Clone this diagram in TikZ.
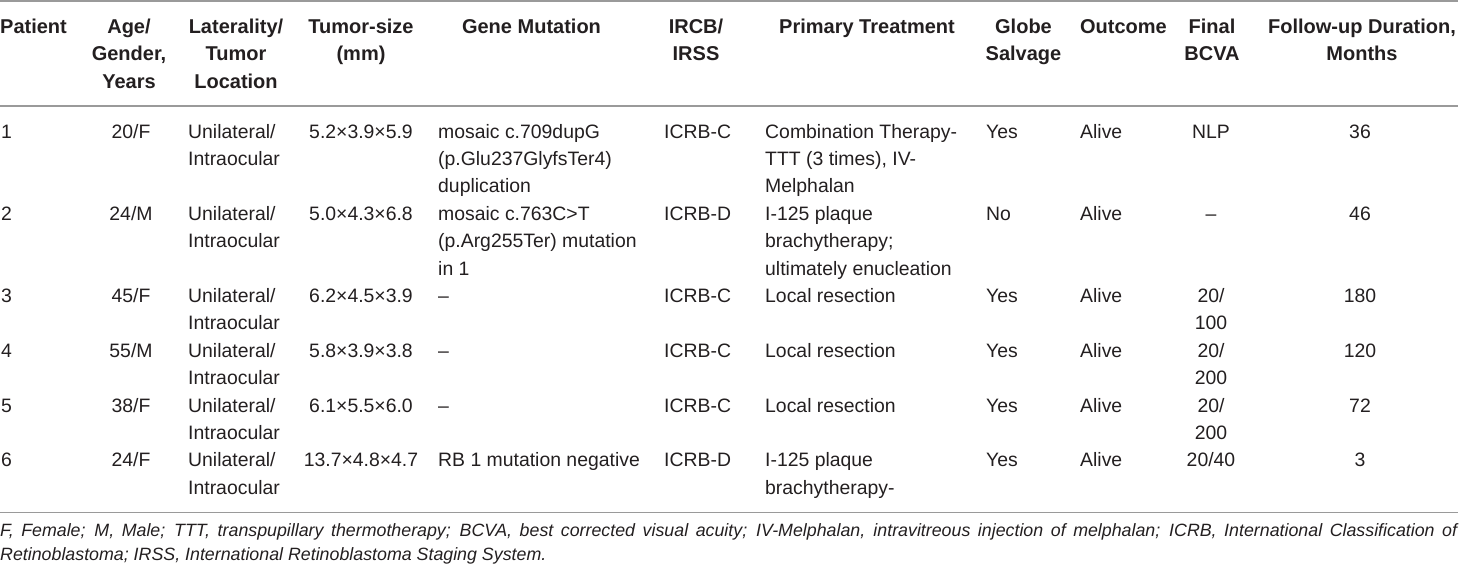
\documentclass[tikz,border=0pt]{standalone}
\usepackage{fontspec}
\setmainfont{Liberation Sans}
\definecolor{txt}{HTML}{231F20}
\definecolor{rulegray}{HTML}{9A9A9A}
\tikzset{
  hd/.style={inner sep=0pt, font=\fontsize{20}{27.4}\selectfont\bfseries, text=txt, anchor=base},
  bdl/.style={inner sep=0pt, font=\fontsize{19.4}{27.4}\selectfont, text=txt, anchor=base west},
  bdc/.style={inner sep=0pt, font=\fontsize{19.4}{27.4}\selectfont, text=txt, anchor=base},
  foot/.style={inner sep=0pt, font=\fontsize{17.8}{24}\selectfont\itshape, text=txt, anchor=base west},
  tabrule/.style={draw=rulegray, line width=1.4pt}
}
% multi-line cell: style, name, x, first baseline y, {line1,line2,...}
\newcommand\mcell[5]{%
  \foreach \mytxt [count=\i from 0] in {#5}{%
    \node[#1] (#2-\i) at (#3,{#4+27.4*\i}) {\mytxt};}}
\begin{document}
\begin{tikzpicture}[x=1pt,y=-1pt]
\useasboundingbox (0,0) rectangle (1460,568);
% rules
\coordinate (t0) at (0,1);     \coordinate (t1) at (1458,1);
\coordinate (m0) at (0,106);   \coordinate (m1) at (1458,106);
\coordinate (b0) at (0,512.5); \coordinate (b1) at (1458,512.5);
\draw[tabrule] (t0) -- (t1);
\draw[tabrule] (m0) -- (m1);
\draw[tabrule] (b0) -- (b1);
% header
\node[hd,anchor=base west] (hP) at (0,33.5) {Patient};
\mcell{hd}{hA}{129}{33.5}{Age/,{Gender,},Years}
\mcell{hd}{hL}{236}{33.5}{Laterality/,Tumor,Location}
\mcell{hd}{hT}{361}{33.5}{Tumor-size,(mm)}
\mcell{hd}{hG}{531.5}{33.5}{Gene Mutation}
\mcell{hd}{hI}{696}{33.5}{IRCB/,IRSS}
\mcell{hd}{hR}{867}{33.5}{Primary Treatment}
\mcell{hd}{hS}{1023.5}{33.5}{Globe,Salvage}
\mcell{hd}{hO}{1123.5}{33.5}{Outcome}
\mcell{hd}{hB}{1212}{33.5}{Final,BCVA}
\mcell{hd}{hF}{1362}{33.5}{{Follow-up Duration,},Months}
% row 1
\def\ry{138}
\mcell{bdl}{p1}{1}{\ry}{1}
\mcell{bdc}{a1}{131}{\ry}{20/F}
\mcell{bdl}{l1}{188}{\ry}{Unilateral/,Intraocular}
\mcell{bdc}{t1s}{361}{\ry}{5.2×3.9×5.9}
\mcell{bdl}{g1}{438}{\ry}{mosaic c.709dupG,(p.Glu237GlyfsTer4),duplication}
\mcell{bdl}{i1}{664}{\ry}{ICRB-C}
\mcell{bdl}{r1}{765}{\ry}{Combination Therapy-,{TTT (3 times), IV-},Melphalan}
\mcell{bdl}{s1}{986}{\ry}{Yes}
\mcell{bdl}{o1}{1080}{\ry}{Alive}
\mcell{bdc}{v1}{1211}{\ry}{NLP}
\mcell{bdc}{f1}{1360}{\ry}{36}
% row 2
\def\ry{220.2}
\mcell{bdl}{p2}{1}{\ry}{2}
\mcell{bdc}{a2}{131}{\ry}{24/M}
\mcell{bdl}{l2}{188}{\ry}{Unilateral/,Intraocular}
\mcell{bdc}{t2s}{361}{\ry}{5.0×4.3×6.8}
\mcell{bdl}{g2}{438}{\ry}{mosaic c.763C>T,(p.Arg255Ter) mutation,in 1}
\mcell{bdl}{i2}{664}{\ry}{ICRB-D}
\mcell{bdl}{r2}{765}{\ry}{I-125 plaque,brachytherapy;,ultimately enucleation}
\mcell{bdl}{s2}{986}{\ry}{No}
\mcell{bdl}{o2}{1080}{\ry}{Alive}
\mcell{bdc}{v2}{1211}{\ry}{–}
\mcell{bdc}{f2}{1360}{\ry}{46}
% row 3
\def\ry{302.4}
\mcell{bdl}{p3}{1}{\ry}{3}
\mcell{bdc}{a3}{131}{\ry}{45/F}
\mcell{bdl}{l3}{188}{\ry}{Unilateral/,Intraocular}
\mcell{bdc}{t3s}{361}{\ry}{6.2×4.5×3.9}
\mcell{bdl}{g3}{438}{\ry}{–}
\mcell{bdl}{i3}{664}{\ry}{ICRB-C}
\mcell{bdl}{r3}{765}{\ry}{Local resection}
\mcell{bdl}{s3}{986}{\ry}{Yes}
\mcell{bdl}{o3}{1080}{\ry}{Alive}
\mcell{bdc}{v3}{1211}{\ry}{20/,100}
\mcell{bdc}{f3}{1360}{\ry}{180}
% row 4
\def\ry{357.2}
\mcell{bdl}{p4}{1}{\ry}{4}
\mcell{bdc}{a4}{131}{\ry}{55/M}
\mcell{bdl}{l4}{188}{\ry}{Unilateral/,Intraocular}
\mcell{bdc}{t4s}{361}{\ry}{5.8×3.9×3.8}
\mcell{bdl}{g4}{438}{\ry}{–}
\mcell{bdl}{i4}{664}{\ry}{ICRB-C}
\mcell{bdl}{r4}{765}{\ry}{Local resection}
\mcell{bdl}{s4}{986}{\ry}{Yes}
\mcell{bdl}{o4}{1080}{\ry}{Alive}
\mcell{bdc}{v4}{1211}{\ry}{20/,200}
\mcell{bdc}{f4}{1360}{\ry}{120}
% row 5
\def\ry{412}
\mcell{bdl}{p5}{1}{\ry}{5}
\mcell{bdc}{a5}{131}{\ry}{38/F}
\mcell{bdl}{l5}{188}{\ry}{Unilateral/,Intraocular}
\mcell{bdc}{t5s}{361}{\ry}{6.1×5.5×6.0}
\mcell{bdl}{g5}{438}{\ry}{–}
\mcell{bdl}{i5}{664}{\ry}{ICRB-C}
\mcell{bdl}{r5}{765}{\ry}{Local resection}
\mcell{bdl}{s5}{986}{\ry}{Yes}
\mcell{bdl}{o5}{1080}{\ry}{Alive}
\mcell{bdc}{v5}{1211}{\ry}{20/,200}
\mcell{bdc}{f5}{1360}{\ry}{72}
% row 6
\def\ry{466.8}
\mcell{bdl}{p6}{1}{\ry}{6}
\mcell{bdc}{a6}{131}{\ry}{24/F}
\mcell{bdl}{l6}{188}{\ry}{Unilateral/,Intraocular}
\mcell{bdc}{t6s}{361}{\ry}{13.7×4.8×4.7}
\mcell{bdl}{g6}{438}{\ry}{RB 1 mutation negative}
\mcell{bdl}{i6}{664}{\ry}{ICRB-D}
\mcell{bdl}{r6}{765}{\ry}{I-125 plaque,brachytherapy-}
\mcell{bdl}{s6}{986}{\ry}{Yes}
\mcell{bdl}{o6}{1080}{\ry}{Alive}
\mcell{bdc}{v6}{1211}{\ry}{20/40}
\mcell{bdc}{f6}{1360}{\ry}{3}
% footnote
\node[foot] (fn1) at (0,536) {\makebox[1457pt][s]{F, Female; M, Male; TTT, transpupillary thermotherapy; BCVA, best corrected visual acuity; IV-Melphalan, intravitreous injection of melphalan; ICRB, International Classification of}};
\node[foot] (fn2) at (0,560) {Retinoblastoma; IRSS, International Retinoblastoma Staging System.};
\end{tikzpicture}
\end{document}
